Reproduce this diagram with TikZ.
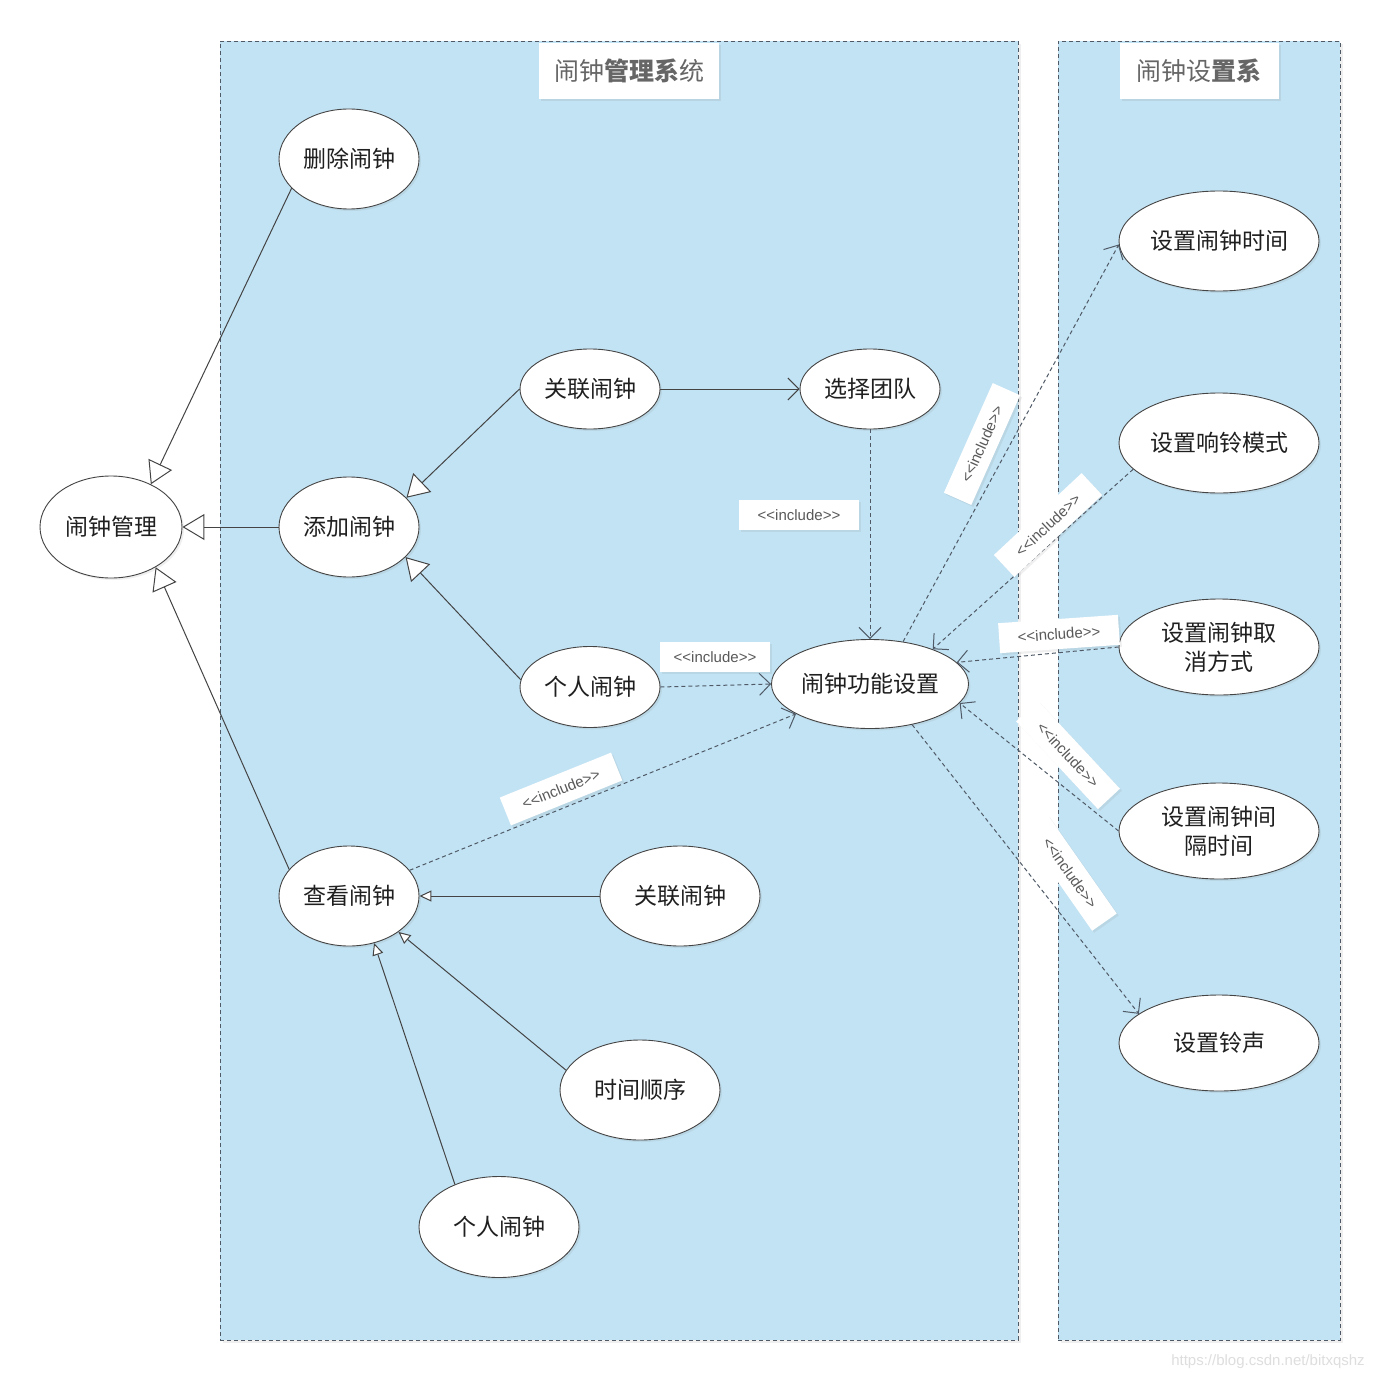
\documentclass[tikz,border=0pt]{standalone}
\usepackage{fontspec}
\usetikzlibrary{shapes.geometric,arrows.meta,shadows}
\newfontfamily\cjk{Noto Sans CJK SC}
\newfontfamily\lab{Liberation Sans}
\definecolor{sysblue}{HTML}{C2E3F4}
\definecolor{edge}{HTML}{444444}
\definecolor{dash}{HTML}{4F5A66}
\definecolor{ttl}{HTML}{666666}
\tikzset{
  container/.style={draw=dash, dash pattern=on 4pt off 3pt, fill=sysblue, line width=0.9pt,
    drop shadow={opacity=0.12, shadow xshift=3pt, shadow yshift=-3pt}},
  titlebox/.style={fill=white, text=ttl, font=\cjk\fontsize{25}{29}\selectfont, inner sep=0pt,
    drop shadow={opacity=0.15, shadow xshift=2pt, shadow yshift=-2pt}},
  uc/.style={ellipse, draw=edge, fill=white, line width=0.9pt, text=black!88,
    font=\cjk\fontsize{23}{29}\selectfont, inner sep=0pt, align=center,
    drop shadow={opacity=0.12, shadow xshift=2pt, shadow yshift=-2pt}},
  lbl/.style={fill=white, text=black!65, font=\lab\fontsize{15}{17}\selectfont,
    minimum width=120pt, minimum height=30pt, inner sep=0pt,
    drop shadow={opacity=0.12, shadow xshift=2pt, shadow yshift=-2pt}},
  gen/.style={draw=edge, line width=1pt, -{Triangle[fill=white, length=22pt, width=26pt]}},
  gensmall/.style={draw=edge, line width=1pt, -{Triangle[fill=white, length=12pt, width=11pt]}},
  assoc/.style={draw=edge, line width=1pt, -{Straight Barb[length=11pt, width=22pt]}},
  incl/.style={draw=dash, line width=1pt, dash pattern=on 4pt off 3pt,
    -{Straight Barb[length=11pt, width=22pt]}},
}
\begin{document}
\begin{tikzpicture}[x=1pt, y=-1pt]
\useasboundingbox[fill=white] (0,0) rectangle (1380,1380);

% containers
\node[container, minimum width=798pt, minimum height=1299pt] (sysA) at (619,690.5) {};
\node[container, minimum width=282pt, minimum height=1299pt] (sysB) at (1199,690.5) {};
\node[titlebox, minimum width=180pt, minimum height=56pt] (tA) at (629,71) {闹钟{\bfseries 管理系}统};
\node[titlebox, minimum width=159pt, minimum height=56pt] (tB) at (1199,71) {闹钟设{\bfseries 置系}};

% use cases
\node[uc, minimum width=140pt, minimum height=100pt] (del) at (349,159) {删除闹钟};
\node[uc, minimum width=142pt, minimum height=102pt] (mgmt) at (111,527) {闹钟管理};
\node[uc, minimum width=140pt, minimum height=100pt] (add) at (349,527) {添加闹钟};
\node[uc, minimum width=140pt, minimum height=80pt] (link) at (590,389) {关联闹钟};
\node[uc, minimum width=140pt, minimum height=80pt] (team) at (870,389) {选择团队};
\node[uc, minimum width=140pt, minimum height=81pt] (pers) at (590,687) {个人闹钟};
\node[uc, minimum width=197pt, minimum height=89pt] (func) at (870,684) {闹钟功能设置};
\node[uc, minimum width=140pt, minimum height=100pt] (view) at (349,896) {查看闹钟};
\node[uc, minimum width=160pt, minimum height=100pt] (linkb) at (680,896) {关联闹钟};
\node[uc, minimum width=160pt, minimum height=100pt] (order) at (640,1090) {时间顺序};
\node[uc, minimum width=160pt, minimum height=101pt] (persb) at (499,1227) {个人闹钟};
\node[uc, minimum width=200pt, minimum height=100pt] (stime) at (1219,241) {设置闹钟时间};
\node[uc, minimum width=200pt, minimum height=100pt] (sring) at (1219,443) {设置响铃模式};
\node[uc, minimum width=200pt, minimum height=96pt] (scancel) at (1219,647) {设置闹钟取\\消方式};
\node[uc, minimum width=200pt, minimum height=96pt] (sinterval) at (1219,831) {设置闹钟间\\隔时间};
\node[uc, minimum width=200pt, minimum height=96pt] (stone) at (1219,1043) {设置铃声};

% generalizations
\draw[gen] (del.207) -- (mgmt.47);
\draw[gen] (add.west) -- (mgmt.east);
\draw[gen] (view.156) -- (mgmt.318);
\draw[gen] (link.west) -- (add.27);
\draw[gen] (pers.174) -- (add.332);
\draw[gensmall] (linkb.west) -- (view.east);
\draw[gensmall] (order.165) -- (view.324);
\draw[gensmall] (persb.136) -- (view.298);

% association
\draw[assoc] (link.east) -- (team.west);

% includes
\draw[incl] (team.south) -- (func.north);
\draw[incl] (pers.east) -- (func.west);
\draw[incl] (view.23) -- (func.202);
\draw[incl] (func.52) -- (stime.182);
\draw[incl] (sring.197) -- (func.29);
\draw[incl] (scancel.west) -- (func.14);
\draw[incl] (sinterval.180) -- (func.348);
\draw[incl] (func.316) -- (stone.160);

% include labels
\node[lbl] (l1) at (799,515) {<<include>>};
\node[lbl, minimum width=110pt] (l2) at (715,657) {<<include>>};
\node[lbl, rotate=22] (l3) at (561,789) {<<include>>};
\node[lbl, rotate=66] (l4) at (982,444) {<<include>>};
\node[lbl, rotate=43] (l5) at (1048,525) {<<include>>};
\node[lbl, rotate=4] (l6) at (1059,634) {<<include>>};
\node[lbl, rotate=-47] (l7) at (1068,755) {<<include>>};
\node[lbl, rotate=-55] (l8) at (1070,873) {<<include>>};

% watermark
\node[text=black!13, font=\lab\fontsize{15}{17}\selectfont, inner sep=0pt] (wm) at (1268,1362) {https://blog.csdn.net/bitxqshz};
\end{tikzpicture}
\end{document}
